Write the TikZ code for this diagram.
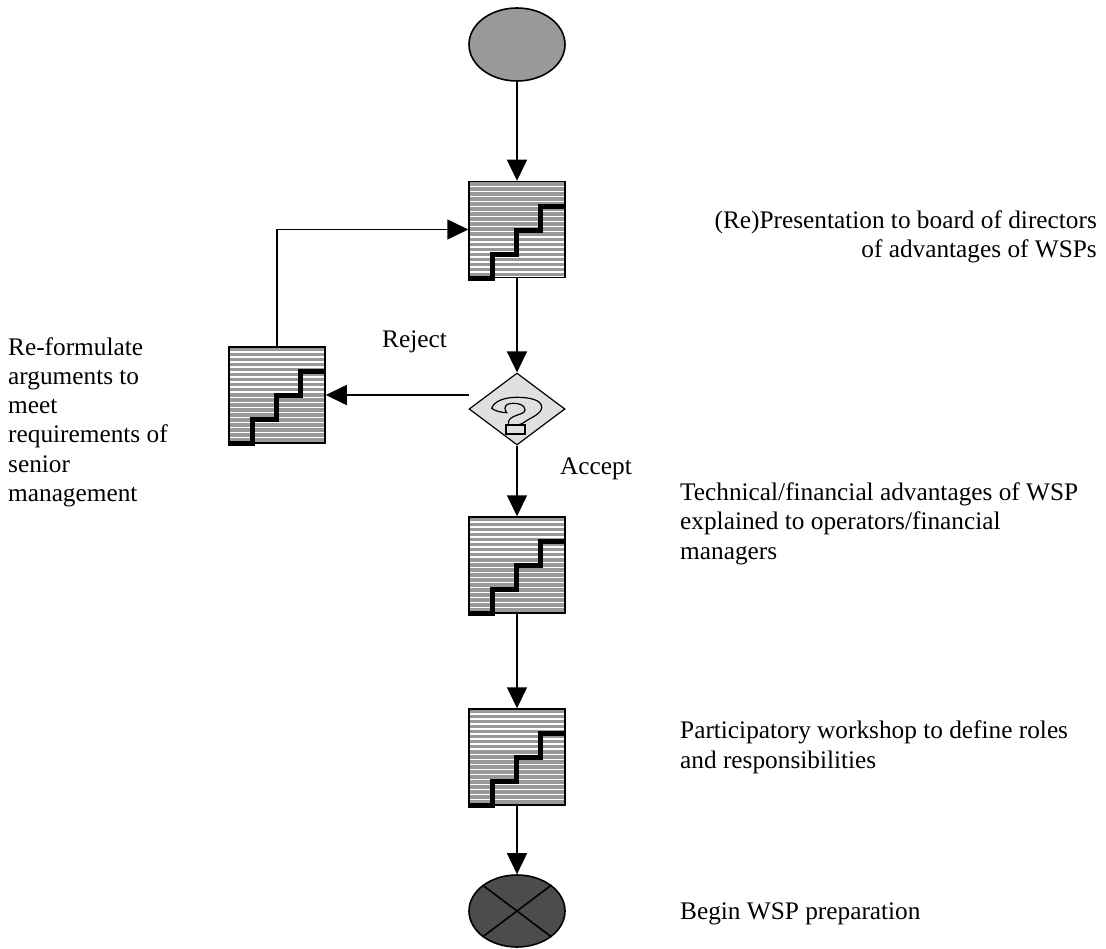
\documentclass[tikz,border=0pt]{standalone}
\usepackage{fontspec}
\setmainfont{Liberation Serif}
\usetikzlibrary{shapes.geometric,arrows.meta}
\definecolor{stripegray}{gray}{0.6}
\definecolor{startgray}{gray}{0.6}
\definecolor{endgray}{gray}{0.3}
\definecolor{diamondgray}{gray}{0.88}
\tikzset{
  flow/.style={line width=1.6pt,-{Triangle[length=21pt,width=20pt]}},
  labeltext/.style={font=\fontsize{25.3}{29.3}\selectfont,inner sep=0pt},
  oval/.style={ellipse,draw=black,line width=1.6pt,minimum width=96pt,minimum height=73pt,inner sep=0pt},
  taskbox/.style={rectangle,draw=black,line width=1.5pt,minimum width=96pt,minimum height=96pt,inner sep=0pt,fill=white,
    path picture={
      \foreach \k in {0,...,19}{
        \fill[stripegray] (-49pt,{47.5pt-5.05pt*\k}) rectangle (49pt,{43.9pt-5.05pt*\k});
      }
    }},
  stairline/.style={line width=4.6pt,line join=miter,black},
  query/.style={diamond,draw=black,line width=1.2pt,fill=diamondgray,minimum width=96pt,minimum height=72pt,aspect=1.333,inner sep=0pt},
}
\begin{document}
\begin{tikzpicture}[x=1pt,y=-1pt]
\useasboundingbox (0,0) rectangle (1106,949);
\node[oval,fill=startgray] (start) at (517,44.5) {};
\node[taskbox] (present) at (517,229.5) {};
\node[taskbox] (reform) at (277,395) {};
\node[query] (decide) at (517,409) {};
\node[taskbox] (explain) at (517,565) {};
\node[taskbox] (workshop) at (517,757) {};
\node[oval,fill=endgray,minimum height=72pt] (finish) at (517,911) {};
% staircase on each task box
\foreach \n in {present,reform,explain,workshop}{
  \draw[stairline] (\n.south west) -- ++(24pt,0pt) -- ++(0pt,24pt) -- ++(24pt,0pt) -- ++(0pt,24pt) -- ++(24pt,0pt) -- ++(0pt,24pt) -- ++(24pt,0pt);
}
% question mark in the decision diamond
\draw[line width=1.2pt,fill=diamondgray]
  (491.7,408.3) .. controls (494,401) and (505,397.3) .. (516.7,397.3)
  .. controls (530,397.3) and (541.7,400) .. (541.7,407.3)
  .. controls (541.7,414) and (530,418) .. (525,421.7)
  .. controls (522,424) and (519,425) .. (516.7,425)
  -- (508.3,425)
  .. controls (508,420) and (510,418.5) .. (513.3,416.7)
  .. controls (518,414) and (525,414) .. (525,410)
  .. controls (525,405) and (519,403.3) .. (513.3,403.3)
  .. controls (508,403.3) and (505,405) .. (505,408.3)
  .. controls (505,410) and (506,411.5) .. (506.7,412.7)
  .. controls (501,412.5) and (495,411) .. (491.7,408.3) -- cycle;
\draw[line width=1.2pt,fill=diamondgray] (506,425) rectangle (525,434);
% cross in the end oval
\draw[line width=1.6pt] (finish.north west) -- (finish.south east);
\draw[line width=1.6pt] (finish.north east) -- (finish.south west);
% connectors
\coordinate (rejectfrom) at (469,395);
\draw[flow] (start) -- (present);
\draw[flow] (present) -- (decide);
\draw[flow] (decide) -- (explain);
\draw[flow] (explain) -- (workshop);
\draw[flow] (workshop) -- (finish);
\draw[flow] (rejectfrom) -- (reform);
\draw[flow] (reform.north) |- (present.west);
% labels
\node[labeltext,anchor=base east,align=right] (t1) at (1097,258) {(Re)Presentation to board of directors\\of advantages of WSPs};
\node[labeltext,anchor=base west] (reject) at (382,348) {Reject};
\node[labeltext,anchor=base west] (accept) at (560,475) {Accept};
\node[labeltext,anchor=base west,align=left] (t2) at (8,501.5) {Re-formulate\\arguments to\\meet\\requirements of\\senior\\management};
\node[labeltext,anchor=base west,align=left] (t3) at (680,559) {Technical/financial advantages of WSP\\explained to operators/financial\\managers};
\node[labeltext,anchor=base west,align=left] (t4) at (680,768) {Participatory workshop to define roles\\and responsibilities};
\node[labeltext,anchor=base west] (t5) at (680,919) {Begin WSP preparation};
\end{tikzpicture}
\end{document}
